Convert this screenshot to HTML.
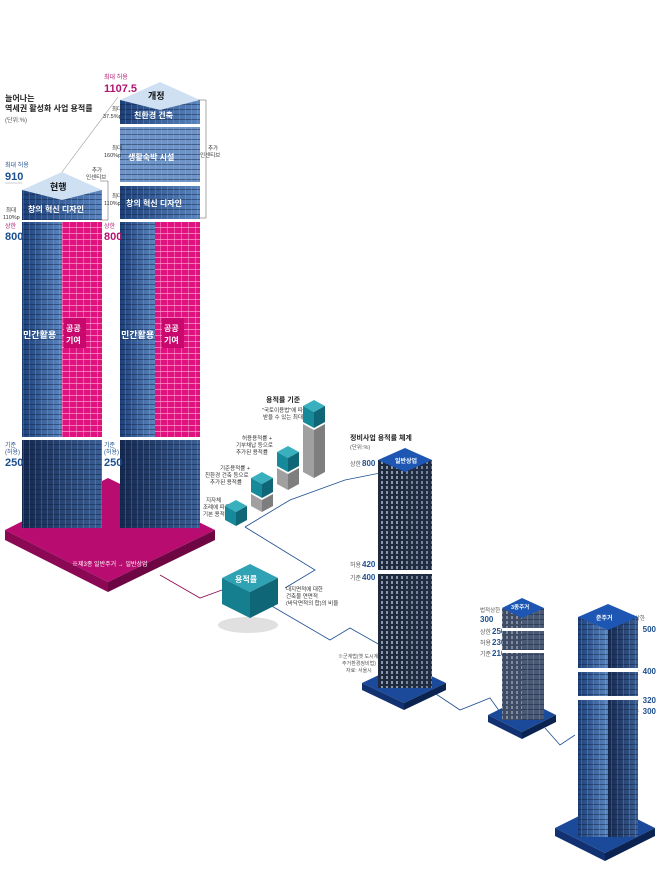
<!DOCTYPE html>
<html><head><meta charset="utf-8"><style>
body{margin:0;background:#fff;width:658px;height:875px;overflow:hidden}
svg text{font-family:"Liberation Sans","Noto Sans CJK KR",sans-serif}
</style></head><body>
<svg width="658" height="875" viewBox="0 0 658 875" xmlns="http://www.w3.org/2000/svg">
<defs>
<linearGradient id="bl" x1="0" x2="1"><stop offset="0" stop-color="#1c3f78"/><stop offset="1" stop-color="#5b86c0"/></linearGradient>
<linearGradient id="bd" x1="0" x2="1"><stop offset="0" stop-color="#14284f"/><stop offset="1" stop-color="#3a5f95"/></linearGradient>
<pattern id="win" width="6" height="5" patternUnits="userSpaceOnUse"><rect width="6" height="5" fill="none"/><line x1="0" y1="4.5" x2="6" y2="4.5" stroke="#0d1c3a" stroke-width="0.8" opacity=".6"/><line x1="5.5" y1="0" x2="5.5" y2="5" stroke="#9cb8e0" stroke-width="0.5" opacity=".5"/></pattern>
<pattern id="pk" width="7" height="6" patternUnits="userSpaceOnUse"><rect width="7" height="6" fill="#e0127f"/><line x1="0" y1="5.5" x2="7" y2="5.5" stroke="#ff9fd0" stroke-width="0.7"/><line x1="6.5" y1="0" x2="6.5" y2="6" stroke="#ff9fd0" stroke-width="0.5"/></pattern>
<pattern id="yw" width="5" height="5" patternUnits="userSpaceOnUse"><rect width="5" height="5" fill="#1f2a3f"/><rect x="1" y="1" width="2" height="3" fill="#8a96aa"/></pattern>
</defs>

<!-- title -->
<text x="5" y="101" font-size="8" font-weight="bold" fill="#222">늘어나는</text>
<text x="5" y="111" font-size="8" font-weight="bold" fill="#222">역세권 활성화 사업 용적률</text>
<text x="5" y="122" font-size="6" fill="#555">(단위:%)</text>

<!-- magenta platform -->
<polygon points="5,530 108,478 215,530 108,582" fill="#b80c70"/>
<polygon points="5,530 108,582 108,592 5,540" fill="#8a0854"/>
<polygon points="215,530 108,582 108,592 215,540" fill="#6e0643"/>
<text x="72" y="566" font-size="6" fill="#fff">※제3종 일반주거 → 일반상업</text>

<!-- LEFT TOWER -->
<g>
<rect x="22" y="440" width="80" height="88" fill="url(#bd)"/><rect x="22" y="440" width="80" height="88" fill="url(#win)"/>
<rect x="22" y="222" width="40" height="215" fill="url(#bl)"/><rect x="22" y="222" width="40" height="215" fill="url(#win)"/>
<rect x="62" y="222" width="40" height="215" fill="url(#pk)"/>
<rect x="22" y="190" width="80" height="30" fill="url(#bl)"/><rect x="22" y="190" width="80" height="30" fill="url(#win)"/>
<polygon points="22,190 62,172 102,190 62,200" fill="#cfe0f2"/>
<text x="50" y="190" font-size="9" font-weight="bold" fill="#111">현행</text>
<text x="28" y="212" font-size="8" font-weight="bold" fill="#fff">창의 혁신 디자인</text>
<text x="23" y="338" font-size="9" font-weight="bold" fill="#fff">민간활용</text>
<rect x="64" y="318" width="22" height="30" fill="#c9086d"/>
<text x="66" y="331" font-size="8" font-weight="bold" fill="#fff">공공</text>
<text x="66" y="343" font-size="8" font-weight="bold" fill="#fff">기여</text>
</g>
<text x="5" y="167" font-size="6" fill="#1d4f8f">최대 허용</text>
<text x="5" y="180" font-size="11" font-weight="bold" fill="#1d4f8f">910</text>
<text x="6" y="212" font-size="5.5" fill="#333">최대</text><text x="3" y="219" font-size="5.5" fill="#333">110%p</text>
<text x="5" y="228" font-size="6" fill="#b0166f">상한</text>
<text x="5" y="240" font-size="11" font-weight="bold" fill="#1d4f8f">800</text>
<text x="5" y="447" font-size="6" fill="#1d4f8f">기준</text><text x="5" y="454" font-size="6" fill="#1d4f8f">(허용)</text>
<text x="5" y="466" font-size="11" font-weight="bold" fill="#1d4f8f">250</text>
<text x="92" y="172" font-size="5.5" fill="#333">추가</text><text x="86" y="179" font-size="5.5" fill="#333">인센티브</text>
<polyline points="100,181 108,181 108,220 100,220" fill="none" stroke="#555" stroke-width=".5"/>
<line x1="5" y1="183" x2="22" y2="183" stroke="#999" stroke-width=".5"/>
<line x1="62" y1="172" x2="118" y2="97" stroke="#999" stroke-width=".6"/>

<!-- RIGHT TOWER -->
<g>
<rect x="120" y="440" width="80" height="88" fill="url(#bd)"/><rect x="120" y="440" width="80" height="88" fill="url(#win)"/>
<rect x="120" y="222" width="35" height="215" fill="url(#bl)"/><rect x="120" y="222" width="35" height="215" fill="url(#win)"/>
<rect x="155" y="222" width="45" height="215" fill="url(#pk)"/>
<rect x="120" y="186" width="80" height="33" fill="url(#bl)"/><rect x="120" y="186" width="80" height="33" fill="url(#win)"/>
<rect x="120" y="127" width="80" height="55" fill="#6f95c8"/><rect x="120" y="127" width="80" height="55" fill="url(#win)"/>
<rect x="120" y="100" width="80" height="24" fill="url(#bl)"/><rect x="120" y="100" width="80" height="24" fill="url(#win)"/>
<polygon points="120,100 160,82 200,100 160,110" fill="#cfe0f2"/>
<text x="148" y="99" font-size="9" font-weight="bold" fill="#111">개정</text>
<text x="134" y="118" font-size="8" font-weight="bold" fill="#fff">친환경 건축</text>
<text x="128" y="160" font-size="8" font-weight="bold" fill="#fff">생활숙박 시설</text>
<text x="126" y="206" font-size="8" font-weight="bold" fill="#fff">창의 혁신 디자인</text>
<text x="121" y="338" font-size="9" font-weight="bold" fill="#fff">민간활용</text>
<rect x="162" y="318" width="22" height="30" fill="#c9086d"/>
<text x="164" y="331" font-size="8" font-weight="bold" fill="#fff">공공</text>
<text x="164" y="343" font-size="8" font-weight="bold" fill="#fff">기여</text>
</g>
<text x="104" y="79" font-size="6" fill="#b0166f">최대 허용</text>
<text x="104" y="92" font-size="11" font-weight="bold" fill="#b0166f">1107.5</text>
<text x="112" y="111" font-size="5.5" fill="#333">최대</text><text x="103" y="118" font-size="5.5" fill="#333">37.5%p</text>
<text x="112" y="150" font-size="5.5" fill="#333">최대</text><text x="104" y="157" font-size="5.5" fill="#333">160%p</text>
<text x="112" y="198" font-size="5.5" fill="#333">최대</text><text x="104" y="205" font-size="5.5" fill="#333">110%p</text>
<text x="104" y="228" font-size="6" fill="#b0166f">상한</text>
<text x="104" y="240" font-size="11" font-weight="bold" fill="#b0166f">800</text>
<text x="104" y="447" font-size="6" fill="#1d4f8f">기준</text><text x="104" y="454" font-size="6" fill="#1d4f8f">(허용)</text>
<text x="104" y="466" font-size="11" font-weight="bold" fill="#1d4f8f">250</text>
<text x="208" y="150" font-size="5.5" fill="#333">추가</text><text x="200" y="157" font-size="5.5" fill="#333">인센티브</text>
<polyline points="198,100 206,100 206,218 198,218" fill="none" stroke="#555" stroke-width=".5"/>

<!-- connectors -->
<polyline points="160,575 200,598 222,590" fill="none" stroke="#8a0854" stroke-width=".8"/>
<polyline points="245,527 290,500 345,480 395,470" fill="none" stroke="#1d4f8f" stroke-width=".8"/>
<polyline points="245,527 315,570 285,588" fill="none" stroke="#1d4f8f" stroke-width=".8"/>
<polyline points="270,605 330,640 350,628 380,645" fill="none" stroke="#1d4f8f" stroke-width=".8"/>
<polyline points="430,690 460,710 490,698 500,712" fill="none" stroke="#1d4f8f" stroke-width=".8"/>
<polyline points="545,728 560,745 575,735" fill="none" stroke="#1d4f8f" stroke-width=".8"/>

<!-- 용적률 cube -->
<ellipse cx="248" cy="625" rx="30" ry="8" fill="#ccc" opacity=".6"/>
<polygon points="222,578 250,564 278,578 250,592" fill="#2fa3b3"/>
<polygon points="222,578 250,592 250,618 222,604" fill="#157e8f"/>
<polygon points="278,578 250,592 250,618 278,604" fill="#0e6676"/>
<text x="235" y="582" font-size="8" font-weight="bold" fill="#fff">용적률</text>
<text x="286" y="591" font-size="5.5" fill="#333">대지면적에 대한</text>
<text x="286" y="598" font-size="5.5" fill="#333">건축물 연면적</text>
<text x="286" y="605" font-size="5.5" fill="#333">(바닥면적의 합)의 비율</text>

<!-- 용적률 기준 stacks -->
<text x="266" y="402" font-size="7" font-weight="bold" fill="#222">용적률 기준</text>
<text x="262" y="412" font-size="5.5" fill="#333">"국토이용법"에 따라</text>
<text x="263" y="419" font-size="5.5" fill="#333">받을 수 있는 최대치</text>
<text x="242" y="440" font-size="5.5" fill="#333">허용용적률 +</text>
<text x="236" y="447" font-size="5.5" fill="#333">기부채납 등으로</text>
<text x="236" y="454" font-size="5.5" fill="#333">추가된 용적률</text>
<text x="220" y="470" font-size="5.5" fill="#333">기준용적률 +</text>
<text x="205" y="477" font-size="5.5" fill="#333">친환경 건축 등으로</text>
<text x="210" y="484" font-size="5.5" fill="#333">추가된 용적률</text>
<text x="206" y="502" font-size="5.5" fill="#333">지자체</text>
<text x="203" y="509" font-size="5.5" fill="#333">조례에 따른</text>
<text x="203" y="516" font-size="5.5" fill="#333">기본 용적률</text>
<g>
<!-- stack 1 -->
<polygon points="225,506 236,500 247,506 236,512" fill="#3ab0bf"/><polygon points="225,506 236,512 236,526 225,520" fill="#168a9a"/><polygon points="247,506 236,512 236,526 247,520" fill="#0e6676"/>
<!-- stack 2 -->
<polygon points="251,478 262,472 273,478 262,484" fill="#3ab0bf"/><polygon points="251,478 262,484 262,498 251,492" fill="#168a9a"/><polygon points="273,478 262,484 262,498 273,492" fill="#0e6676"/>
<polygon points="251,494 262,500 262,512 251,506" fill="#a0a0a0"/><polygon points="273,494 262,500 262,512 273,506" fill="#7e7e7e"/>
<!-- stack 3 -->
<polygon points="277,452 288,446 299,452 288,458" fill="#3ab0bf"/><polygon points="277,452 288,458 288,472 277,466" fill="#168a9a"/><polygon points="299,452 288,458 288,472 299,466" fill="#0e6676"/>
<polygon points="277,468 288,474 288,490 277,484" fill="#a0a0a0"/><polygon points="299,468 288,474 288,490 299,484" fill="#7e7e7e"/>
<!-- stack 4 -->
<polygon points="303,406 314,400 325,406 314,412" fill="#3ab0bf"/><polygon points="303,406 314,412 314,428 303,422" fill="#168a9a"/><polygon points="325,406 314,412 314,428 325,422" fill="#0e6676"/>
<polygon points="303,424 314,430 314,478 303,472" fill="#a0a0a0"/><polygon points="325,424 314,430 314,478 325,472" fill="#7e7e7e"/>
</g>

<!-- 정비사업 -->
<text x="350" y="440" font-size="7" font-weight="bold" fill="#222">정비사업 용적률 체계</text>
<text x="350" y="449" font-size="5.5" fill="#555">(단위:%)</text>
<text x="350" y="466" font-size="6" fill="#555">상한</text><text x="362" y="466" font-size="8" font-weight="bold" fill="#1d4f8f">800</text>
<text x="350" y="567" font-size="6" fill="#555">허용</text><text x="362" y="567" font-size="8" font-weight="bold" fill="#1d4f8f">420</text>
<text x="350" y="580" font-size="6" fill="#555">기준</text><text x="362" y="580" font-size="8" font-weight="bold" fill="#1d4f8f">400</text>
<text x="338" y="658" font-size="5" fill="#555">※군계법(옛 도시계</text>
<text x="342" y="665" font-size="5" fill="#555">주거환경정비법)</text>
<text x="346" y="672" font-size="5" fill="#555">자료: 서울시</text>

<!-- tower A -->
<polygon points="362,683 404,663 446,683 404,703" fill="#1b4a9a"/>
<polygon points="362,683 404,703 404,710 362,690" fill="#123170"/><polygon points="446,683 404,703 404,710 446,690" fill="#0b2350"/>
<rect x="378" y="460" width="27" height="228" fill="url(#yw)"/>
<rect x="405" y="460" width="27" height="228" fill="#25324a"/><rect x="405" y="460" width="27" height="228" fill="url(#yw)" opacity=".8"/>
<polygon points="378,460 405,448 432,460 405,472" fill="#1d56b3"/>
<text x="395" y="463" font-size="6" font-weight="bold" fill="#fff">일반상업</text>
<rect x="378" y="570" width="54" height="4" fill="#fff"/>

<!-- tower B 3종주거 -->
<text x="480" y="612" font-size="5.5" fill="#555">법적상한</text><text x="480" y="622" font-size="8" font-weight="bold" fill="#1d4f8f">300</text>
<text x="480" y="634" font-size="6" fill="#555">상한</text><text x="492" y="634" font-size="8" font-weight="bold" fill="#1d4f8f">250</text>
<text x="480" y="645" font-size="6" fill="#555">허용</text><text x="492" y="645" font-size="8" font-weight="bold" fill="#1d4f8f">230</text>
<text x="480" y="656" font-size="6" fill="#555">기준</text><text x="492" y="656" font-size="8" font-weight="bold" fill="#1d4f8f">210</text>
<polygon points="488,715 522,698 556,715 522,732" fill="#1b4a9a"/>
<polygon points="488,715 522,732 522,739 488,722" fill="#123170"/><polygon points="556,715 522,732 522,739 556,722" fill="#0b2350"/>
<rect x="502" y="608" width="20" height="112" fill="#6f7f98"/><rect x="502" y="608" width="20" height="112" fill="url(#yw)" opacity=".6"/>
<rect x="522" y="608" width="22" height="112" fill="#4a5a74"/><rect x="522" y="608" width="22" height="112" fill="url(#win)"/>
<polygon points="502,608 522,598 544,608 522,618" fill="#1d56b3"/>
<text x="511" y="609" font-size="5.5" font-weight="bold" fill="#fff">3종주거</text>
<rect x="502" y="628" width="42" height="3" fill="#fff"/><rect x="502" y="650" width="42" height="3" fill="#fff"/>

<!-- tower C 준주거 -->
<text x="645" y="620" font-size="5.5" fill="#555" text-anchor="end">법적상한</text><text x="656" y="632" font-size="8" font-weight="bold" fill="#1d4f8f" text-anchor="end">500</text>
<text x="628" y="674" font-size="6" fill="#555">상한</text><text x="656" y="674" font-size="8" font-weight="bold" fill="#1d4f8f" text-anchor="end">400</text>
<text x="628" y="703" font-size="6" fill="#555">허용</text><text x="656" y="703" font-size="8" font-weight="bold" fill="#1d4f8f" text-anchor="end">320</text>
<text x="628" y="714" font-size="6" fill="#555">기준</text><text x="656" y="714" font-size="8" font-weight="bold" fill="#1d4f8f" text-anchor="end">300</text>
<polygon points="555,828 605,803 655,828 605,853" fill="#1b4a9a"/>
<polygon points="555,828 605,853 605,861 555,836" fill="#123170"/><polygon points="655,828 605,853 605,861 655,836" fill="#0b2350"/>
<rect x="578" y="617" width="30" height="220" fill="url(#bl)"/><rect x="578" y="617" width="30" height="220" fill="url(#win)"/>
<rect x="608" y="617" width="30" height="220" fill="url(#bd)"/><rect x="608" y="617" width="30" height="220" fill="url(#win)"/>
<polygon points="578,617 608,604 638,617 608,630" fill="#1d56b3"/>
<text x="596" y="620" font-size="6" font-weight="bold" fill="#fff">준주거</text>
<rect x="578" y="668" width="60" height="4" fill="#fff"/><rect x="578" y="696" width="60" height="4" fill="#fff"/>
</svg>
</body></html>
